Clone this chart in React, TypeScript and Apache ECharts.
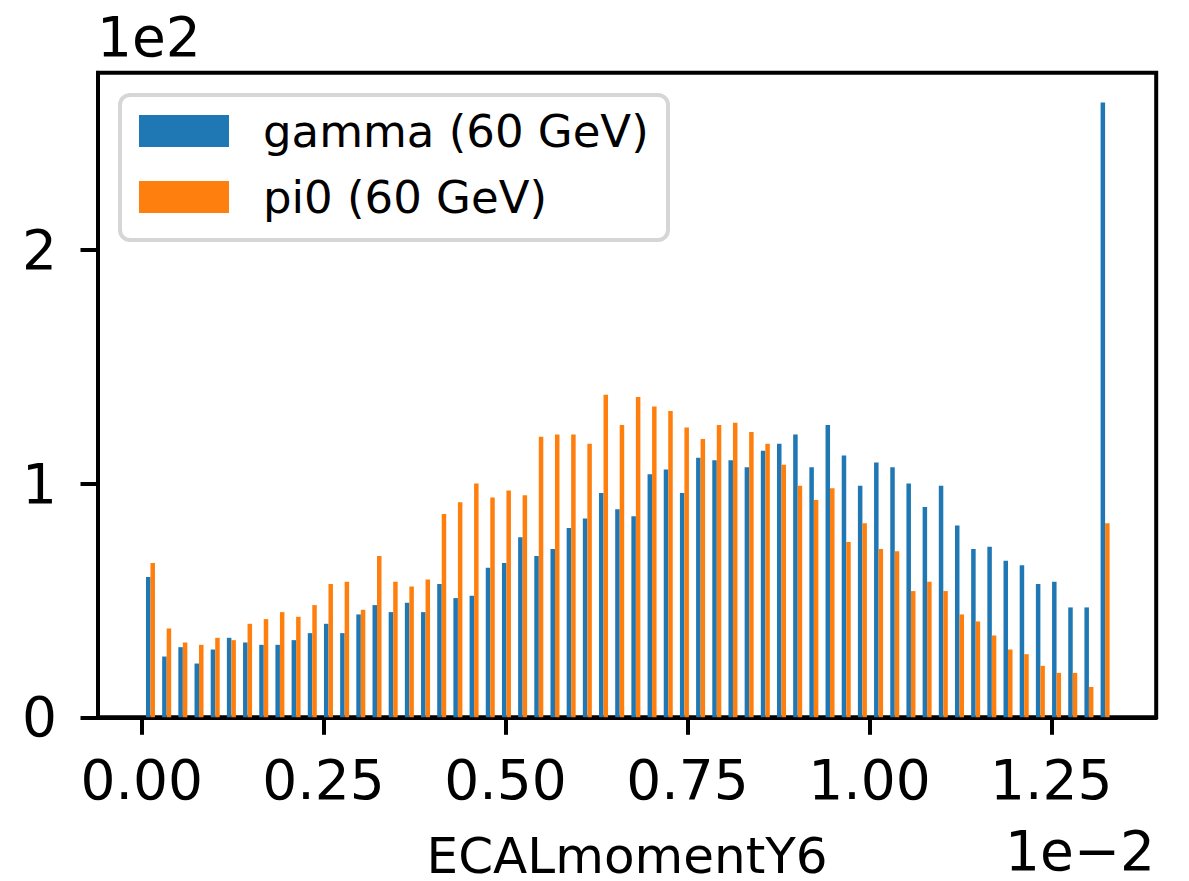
import React, { useEffect, useRef } from "react";
import * as echarts from "echarts";

// Histogram counts per bin (60 bins)
const gammaCounts = [
  60, 26, 30, 23, 29, 34, 32, 31, 31, 33,
  36, 40, 36, 44, 48, 45, 49, 45, 57, 51,
  52, 64, 66, 77, 69, 72, 81, 85, 96, 89,
  86, 104, 106, 96, 111, 110, 110, 107, 114, 117,
  121, 107, 125, 112, 99, 109, 107, 100, 90, 99,
  82, 72, 73, 67, 65, 57, 58, 47, 47, 263,
];
const pi0Counts = [
  66, 38, 32, 31, 34, 33, 40, 42, 45, 43,
  48, 57, 58, 46, 69, 58, 56, 59, 87, 92,
  100, 94, 97, 95, 120, 121, 121, 117, 138, 125,
  137, 133, 131, 124, 119, 125, 126, 122, 117, 108,
  99, 93, 98, 75, 83, 72, 71, 54, 58, 54,
  44, 41, 35, 29, 27, 22, 19, 19, 13, 83,
];
// bin range (in units of 1e-2)
const binMin = 0.001;
const binMax = 1.335;
const xTickValues = [0, 0.25, 0.5, 0.75, 1.0, 1.25];
const yTickValues = [0, 100, 200];
const seriesNames = ["gamma (60 GeV)", "pi0 (60 GeV)"];
const xLabel = "ECALmomentY6";

const FONT = "DejaVu Sans";

export default function App() {
  const ref = useRef<HTMLDivElement>(null);
  useEffect(() => {
    if (!ref.current) return;
    const chart = echarts.init(ref.current, undefined, { renderer: "svg" });
    const n = gammaCounts.length;
    const bw = (binMax - binMin) / n;
    const centers = gammaCounts.map((_, i) => binMin + (i + 0.5) * bw);
    const gData = gammaCounts.map((v, i) => [centers[i], v]);
    const pData = pi0Counts.map((v, i) => [centers[i], v]);

    const option: any = {
      animation: false,
      backgroundColor: "#ffffff",
      grid: {
        left: 98,
        top: 72.8,
        width: 1058.2,
        height: 644.5,
        show: true,
        borderColor: "#000",
        borderWidth: 4,
        backgroundColor: "transparent",
        containLabel: false,
        outerBoundsMode: "none",
      },
      xAxis: {
        type: "value",
        min: -0.06,
        max: 1.3941,
        axisLine: { show: true, onZero: false, lineStyle: { color: "#000", width: 4 } },
        axisTick: {
          show: true,
          length: 17.5,
          customValues: xTickValues,
          lineStyle: { color: "#000", width: 4 },
        },
        axisLabel: {
          customValues: xTickValues,
          formatter: (v: number) => v.toFixed(2),
          fontSize: 55,
          fontFamily: FONT,
          color: "#000",
          margin: 35,
        },
        splitLine: { show: false },
        name: xLabel,
        nameLocation: "middle",
        nameGap: 114,
        nameTextStyle: { fontSize: 50, fontFamily: FONT, color: "#000" },
      },
      yAxis: {
        type: "value",
        min: 0,
        max: 275.7,
        axisLine: { show: true, onZero: false, lineStyle: { color: "#000", width: 4 } },
        axisTick: {
          show: true,
          length: 17.5,
          customValues: yTickValues,
          lineStyle: { color: "#000", width: 4 },
        },
        axisLabel: {
          customValues: yTickValues,
          formatter: (v: number) => String(Math.round(v / 100)),
          fontSize: 55,
          fontFamily: FONT,
          color: "#000",
          margin: 41,
        },
        splitLine: { show: false },
      },
      series: [
        {
          name: seriesNames[0],
          type: "bar",
          data: gData,
          barWidth: 4.5,
          barGap: "0%",
          itemStyle: { color: "#1f77b4" },
        },
        {
          name: seriesNames[1],
          type: "bar",
          data: pData,
          barWidth: 4.5,
          barGap: "0%",
          itemStyle: { color: "#ff7f0e" },
        },
      ],
      graphic: [
        {
          type: "text",
          x: 97,
          y: 37,
          style: {
            text: "1e2",
            font: `55px "${FONT}"`,
            fill: "#000",
            align: "left",
            verticalAlign: "middle",
            textAlign: "left",
            textVerticalAlign: "middle",
          },
        },
        {
          type: "text",
          x: 1155,
          y: 851,
          style: {
            text: "1e\u22122",
            font: `55px "${FONT}"`,
            fill: "#000",
            align: "right",
            verticalAlign: "middle",
            textAlign: "right",
            textVerticalAlign: "middle",
          },
        },
        {
          type: "rect",
          z: 100,
          shape: { x: 120, y: 95, width: 548, height: 145, r: 10 },
          style: { fill: "#ffffff", stroke: "#d6d6d6", lineWidth: 4 },
        },
        {
          type: "rect",
          z: 101,
          shape: { x: 139, y: 115, width: 90, height: 32 },
          style: { fill: "#1f77b4" },
        },
        {
          type: "rect",
          z: 101,
          shape: { x: 139, y: 181, width: 90, height: 32 },
          style: { fill: "#ff7f0e" },
        },
        {
          type: "text",
          z: 101,
          x: 263,
          y: 131,
          style: {
            text: seriesNames[0],
            font: `45px "${FONT}"`,
            fill: "#000",
            align: "left",
            verticalAlign: "middle",
            textAlign: "left",
            textVerticalAlign: "middle",
          },
        },
        {
          type: "text",
          z: 101,
          x: 263,
          y: 197,
          style: {
            text: seriesNames[1],
            font: `45px "${FONT}"`,
            fill: "#000",
            align: "left",
            verticalAlign: "middle",
            textAlign: "left",
            textVerticalAlign: "middle",
          },
        },
      ],
    };
    chart.setOption(option);
    return () => chart.dispose();
  }, []);
  return (
    <div
      ref={ref}
      style={{ position: "absolute", left: 0, top: 0, width: 1189, height: 881 }}
    />
  );
}
